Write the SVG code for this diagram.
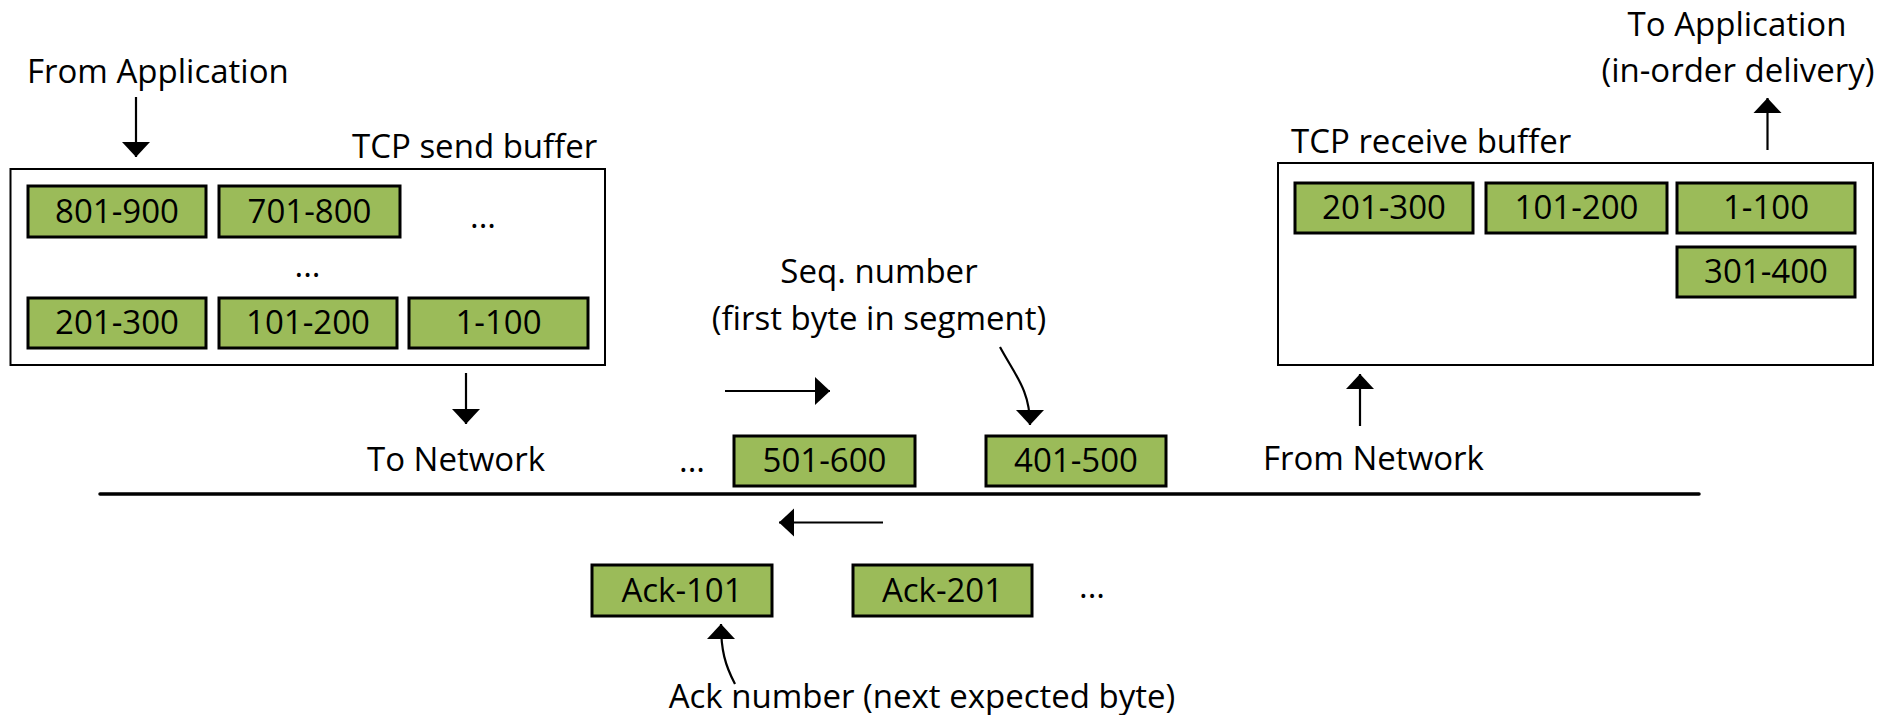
<svg xmlns="http://www.w3.org/2000/svg" width="1890" height="715" viewBox="0 0 1890 715">
<style>
  text { font-family: "Open Sans", "Liberation Sans", sans-serif; font-size: 33px; fill: #000; }
  .mid { text-anchor: middle; }
  .seg { fill: #9BBB59; stroke: #000; stroke-width: 3; }
  .buf { fill: #fff; stroke: #000; stroke-width: 2; }
  .arr { fill: none; stroke: #000; stroke-width: 2.2; marker-end: url(#ah); }
  .wire { stroke: #000; stroke-width: 3.5; stroke-linecap: round; }
</style>
<defs>
  <marker id="ah" markerUnits="userSpaceOnUse" markerWidth="16" markerHeight="30" refX="15" refY="14" orient="auto" viewBox="0 0 16 28">
    <path d="M0,0 L15,14 L0,28 z" fill="#000"/>
  </marker>
</defs>
<rect width="1890" height="715" fill="#fff"/>

<g id="send-buffer">
  <rect class="buf" x="10.5" y="169" width="594.5" height="196"/>
  <text x="352" y="158">TCP send buffer</text>
  <text class="mid" x="483" y="228">...</text>
  <text class="mid" x="307.5" y="277">...</text>
</g>
<g id="s-801-900"><rect class="seg" x="28" y="186" width="178" height="51"/><text class="mid" x="117" y="222.5">801-900</text></g>
<g id="s-701-800"><rect class="seg" x="219" y="186" width="181" height="51"/><text class="mid" x="309.5" y="222.5">701-800</text></g>
<g id="s-201-300"><rect class="seg" x="28" y="298" width="178" height="50"/><text class="mid" x="117" y="334">201-300</text></g>
<g id="s-101-200"><rect class="seg" x="219" y="298" width="178" height="50"/><text class="mid" x="308" y="334">101-200</text></g>
<g id="s-1-100"><rect class="seg" x="409" y="298" width="179" height="50"/><text class="mid" x="498.5" y="334">1-100</text></g>

<g id="recv-buffer">
  <rect class="buf" x="1278" y="163" width="595" height="202"/>
  <text x="1291" y="153">TCP receive buffer</text>
</g>
<g id="r-201-300"><rect class="seg" x="1295" y="183" width="178" height="50"/><text class="mid" x="1384" y="219">201-300</text></g>
<g id="r-101-200"><rect class="seg" x="1486" y="183" width="181" height="50"/><text class="mid" x="1576.5" y="219">101-200</text></g>
<g id="r-1-100"><rect class="seg" x="1677" y="183" width="178" height="50"/><text class="mid" x="1766" y="219">1-100</text></g>
<g id="r-301-400"><rect class="seg" x="1677" y="247" width="178" height="50"/><text class="mid" x="1766" y="283">301-400</text></g>

<g id="labels">
  <text x="27" y="83">From Application</text>
  <text class="mid" x="1737" y="36">To Application</text>
  <text class="mid" x="1738" y="82">(in-order delivery)</text>
  <text class="mid" x="879" y="283">Seq. number</text>
  <text class="mid" x="879" y="330">(first byte in segment)</text>
  <text x="367" y="471">To Network</text>
  <text x="1263" y="470">From Network</text>
  <text class="mid" x="922" y="708">Ack number (next expected byte)</text>
</g>

<g id="data-segments">
  <text class="mid" x="692" y="472">...</text>
  <g id="d-501-600"><rect class="seg" x="734" y="436" width="181" height="50"/><text class="mid" x="824.5" y="472">501-600</text></g>
  <g id="d-401-500"><rect class="seg" x="986" y="436" width="180" height="50"/><text class="mid" x="1076" y="472">401-500</text></g>
</g>

<g id="ack-segments">
  <g id="a-101"><rect class="seg" x="592" y="565" width="180" height="51"/><text class="mid" x="682" y="601.5">Ack-101</text></g>
  <g id="a-201"><rect class="seg" x="853" y="565" width="179" height="51"/><text class="mid" x="942.5" y="601.5">Ack-201</text></g>
  <text class="mid" x="1092" y="598">...</text>
</g>

<g id="connectors">
  <line class="wire" x1="100" y1="494" x2="1699" y2="494"/>
  <line class="arr" x1="136" y1="97" x2="136" y2="157"/>
  <line class="arr" x1="466" y1="373" x2="466" y2="424"/>
  <line class="arr" x1="725" y1="391" x2="830" y2="391"/>
  <path class="arr" d="M1000,347 C1015,375 1030,390 1030,425"/>
  <line class="arr" x1="883" y1="522.5" x2="779" y2="522.5"/>
  <path class="arr" d="M735,684 C725,665 721,650 721,624"/>
  <line class="arr" x1="1360" y1="426" x2="1360" y2="374"/>
  <line class="arr" x1="1767.5" y1="150" x2="1767.5" y2="98"/>
</g>
</svg>
